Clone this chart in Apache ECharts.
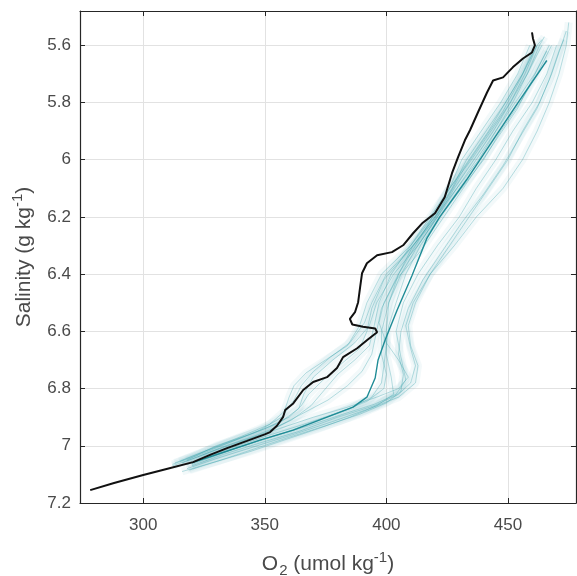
<!DOCTYPE html>
<html>
<head>
<meta charset="utf-8">
<script src="https://cdn.jsdelivr.net/npm/echarts@6/dist/echarts.min.js"></script>
<style>html,body{margin:0;padding:0;background:#fff}#c{width:577px;height:576px}</style>
</head>
<body>
<div id="c"></div>
<script>
// Tick values
const xTicks = [300, 350, 400, 450];
const yTicks = [5.6, 5.8, 6, 6.2, 6.4, 6.6, 6.8, 7, 7.2];

// Black profile [O2, Salinity]
const blackProfile = [[278.2,7.155],[288,7.13],[300,7.102],[310,7.08],[320.5,7.057],[328,7.03],[334.5,7.008],[342.7,6.983],[350,6.96],[352.2,6.952],[355,6.93],[357.5,6.90],[358.4,6.875],[361.7,6.852],[365.8,6.805],[369.9,6.777],[375.6,6.760],[379.7,6.728],[382.2,6.69],[388,6.659],[392,6.631],[396.2,6.603],[395.4,6.59],[390.4,6.584],[386,6.576],[385,6.556],[387.1,6.533],[388.4,6.498],[389.2,6.446],[390,6.397],[392,6.362],[396.2,6.334],[402.3,6.323],[406.9,6.299],[411,6.257],[415,6.22],[420,6.187],[424,6.131],[427,6.047],[429.5,5.991],[432.3,5.932],[434.4,5.897],[437.7,5.834],[441.4,5.765],[443.9,5.723],[448,5.712],[452,5.677],[456.2,5.646],[459.9,5.625],[461.1,5.600],[460.3,5.576],[459.9,5.555]];

// Mean of the ensemble
const meanProfile = [[466,5.653],[455,5.79],[444,5.93],[433,6.07],[422,6.2],[416.7,6.274],[410.6,6.404],[404.4,6.526],[399.5,6.63],[396.6,6.70],[395.4,6.763],[392,6.83],[386.3,6.865],[375.6,6.90],[361.7,6.945],[348,6.98],[334,7.02],[320,7.06]];

// Individual ensemble profiles
const prof1 = [[468,5.6],[462,5.7],[455,5.8],[447,5.9],[440,6.0],[431,6.1],[422,6.2],[414,6.3],[408,6.4],[404,6.5],[401,6.58],[400,6.65],[399,6.72],[398,6.78],[394,6.83],[385,6.87],[372,6.91],[358,6.955],[343,6.995],[330,7.03],[318,7.065]];
const prof2 = [[461,5.6],[456,5.7],[449,5.8],[441,5.9],[433,6.0],[427,6.1],[420,6.2],[411,6.3],[400,6.4],[394,6.5],[391,6.57],[385,6.64],[377,6.69],[370,6.74],[365,6.79],[362,6.84],[357,6.9],[348,6.945],[335,6.99],[322,7.035],[312,7.065]];
const prof3 = [[474,5.55],[472,5.6],[468,5.7],[463,5.8],[456,5.9],[450,6.0],[442,6.1],[434,6.2],[426,6.3],[418,6.4],[412,6.5],[409,6.58],[410,6.65],[413,6.72],[412,6.78],[405,6.83],[393,6.87],[378,6.915],[362,6.96],[345,7.005],[330,7.045],[318,7.08]];
const prof4 = [[464,5.6],[458,5.7],[451,5.8],[443,5.9],[435,6.0],[426,6.1],[418,6.2],[410,6.3],[402,6.4],[397,6.5],[395,6.58],[393,6.65],[387,6.7],[380,6.75],[375,6.8],[369,6.86],[361,6.91],[350,6.955],[338,6.995],[325,7.04]];
const prof5 = [[459,5.6],[454,5.7],[447,5.8],[439,5.9],[431,6.0],[426,6.1],[419,6.2],[410,6.3],[398,6.4],[392,6.5],[389,6.58],[384,6.65],[375,6.7],[367,6.745],[362,6.79],[360,6.83],[358,6.88],[352,6.925],[341,6.965],[328,7.01],[315,7.055]];
const prof6 = [[470,5.6],[466,5.7],[460,5.8],[452,5.9],[445,6.0],[437,6.1],[430,6.2],[421,6.3],[413,6.4],[407,6.5],[404,6.6],[406,6.69],[408,6.77],[404,6.82],[395,6.855],[382,6.89],[368,6.93],[352,6.97],[336,7.015],[320,7.065]];
const prof7 = [[467,5.6],[461,5.7],[453,5.8],[445,5.9],[437,6.0],[429,6.1],[420,6.2],[411,6.3],[405,6.4],[401,6.5],[400,6.6],[400,6.68],[402,6.76],[403,6.82],[396,6.86],[385,6.9],[372,6.94],[358,6.98],[344,7.02],[330,7.055],[316,7.09]];
const prof8 = [[464,5.58],[462,5.6],[456,5.7],[449,5.8],[442,5.9],[434,6.0],[426,6.1],[419,6.2],[412,6.3],[405,6.4],[399,6.5],[397,6.57],[400,6.64],[405,6.7],[409,6.76],[405,6.8],[396,6.83],[384,6.865],[370,6.9],[356,6.94],[342,6.98],[328,7.02],[316,7.06]];
const prof9 = [[462,5.6],[457,5.7],[451,5.8],[444,5.9],[436,6.0],[428,6.1],[421,6.2],[413,6.3],[403,6.4],[396,6.5],[393,6.58],[387,6.64],[378,6.7],[370,6.76],[366,6.82],[364,6.87],[356,6.92],[344,6.96],[330,7.0],[318,7.05]];
const prof10 = [[475,5.52],[474,5.6],[471,5.7],[467,5.8],[462,5.9],[456,6.0],[448,6.1],[437,6.2],[428,6.3],[418,6.4],[411,6.5],[408,6.58],[410,6.66],[412,6.72],[410,6.78],[405,6.82],[395,6.86],[380,6.9],[364,6.95],[348,6.99],[333,7.03],[320,7.07]];
const prof11 = [[465,5.57],[463,5.6],[458,5.7],[452,5.8],[445,5.9],[438,6.0],[429,6.1],[421,6.2],[413,6.3],[406,6.4],[401,6.5],[398,6.6],[398,6.68],[400,6.75],[399,6.8],[392,6.845],[380,6.885],[366,6.925],[351,6.965],[337,7.005],[323,7.05]];
const prof12 = [[473,5.58],[471,5.62],[467,5.72],[462,5.82],[455,5.92],[448,6.02],[440,6.12],[431,6.22],[423,6.32],[415,6.42],[409,6.52],[406,6.6],[405,6.68],[407,6.75],[406,6.81],[400,6.85],[389,6.89],[375,6.93],[360,6.97],[346,7.01],[332,7.05],[319,7.085]];
const prof13 = [[460,5.63],[455,5.72],[448,5.83],[440,5.93],[432,6.03],[426,6.12],[419,6.22],[409,6.32],[399,6.42],[394,6.52],[392,6.6],[389,6.66],[382,6.71],[374,6.77],[368,6.82],[365,6.86],[360,6.9],[350,6.94],[338,6.98],[325,7.02],[313,7.06]];
const prof14 = [[466,5.62],[460,5.72],[454,5.82],[446,5.92],[438,6.02],[430,6.12],[422,6.22],[414,6.32],[404,6.42],[398,6.52],[396,6.6],[394,6.68],[390,6.74],[384,6.79],[376,6.84],[366,6.885],[356,6.93],[346,6.965],[334,7.0],[322,7.04],[312,7.07]];

const ensemble = [prof1, prof2, prof3, prof4, prof5, prof6, prof7, prof8, prof9, prof10, prof11, prof12, prof13, prof14];

const teal = '#2c9aa5';
const textColor = '#4a4a4a';
const font = 'Liberation Sans, Arial, sans-serif';

const series = [];
ensemble.forEach(p => {
  series.push({type:'line', data:p, showSymbol:false, silent:true, z:1,
    lineStyle:{color:teal, width:8, opacity:0.06}});
});
ensemble.forEach(p => {
  series.push({type:'line', data:p, showSymbol:false, silent:true, z:2,
    lineStyle:{color:teal, width:1, opacity:0.32}});
});
series.push({type:'line', data:meanProfile, showSymbol:false, z:3,
  lineStyle:{color:'#1f8c96', width:1.4}});
series.push({type:'line', data:blackProfile, showSymbol:false, z:4,
  lineStyle:{color:'#111111', width:2}});

const axisLineStyle = {show:true, lineStyle:{color:'#262626', width:1.2}};

const chart = echarts.init(document.getElementById('c'));
chart.setOption({
  animation:false,
  backgroundColor:'#ffffff',
  grid:{left:80, right:1, top:11, bottom:73, containLabel:false, outerBoundsMode:'none'},
  xAxis:[{
    type:'value', position:'bottom', min:274, max:478,
    axisLine:axisLineStyle,
    axisTick:{show:true, inside:true, length:5, customValues:xTicks, lineStyle:{color:'#262626'}},
    axisLabel:{customValues:xTicks, color:textColor, fontSize:17, fontFamily:font, margin:14},
    splitLine:{show:true, lineStyle:{color:'#e2e2e2', width:1}},
    name:'{n|O}{sub|2}{n| (umol kg}{sup|-1}{n|)}',
    nameLocation:'middle', nameGap:47,
    nameTextStyle:{color:textColor, fontFamily:font,
      rich:{n:{fontSize:21, color:textColor, fontFamily:font},
            sub:{fontSize:15, color:textColor, fontFamily:font, padding:[13,0,0,1]},
            sup:{fontSize:15, color:textColor, fontFamily:font, padding:[0,0,13,0]}}}
  },{
    type:'value', position:'top', min:274, max:478,
    axisLine:axisLineStyle,
    axisTick:{show:true, inside:true, length:5, customValues:xTicks, lineStyle:{color:'#262626'}},
    axisLabel:{show:false}, splitLine:{show:false}
  }],
  yAxis:[{
    type:'value', position:'left', inverse:true, min:5.48, max:7.2,
    axisLine:axisLineStyle,
    axisTick:{show:true, inside:true, length:5, customValues:yTicks, lineStyle:{color:'#262626'}},
    axisLabel:{customValues:yTicks, color:textColor, fontSize:17, fontFamily:font, margin:9},
    splitLine:{show:true, lineStyle:{color:'#e2e2e2', width:1}},
    name:'{n|Salinity (g kg}{sup|-1}{n|)}',
    nameLocation:'middle', nameGap:42, nameRotate:90,
    nameTextStyle:{color:textColor, fontFamily:font,
      rich:{n:{fontSize:21, color:textColor, fontFamily:font},
            sup:{fontSize:15, color:textColor, fontFamily:font, padding:[0,0,13,0]}}}
  },{
    type:'value', position:'right', inverse:true, min:5.48, max:7.2,
    axisLine:axisLineStyle,
    axisTick:{show:true, inside:true, length:5, customValues:yTicks, lineStyle:{color:'#262626'}},
    axisLabel:{show:false}, splitLine:{show:false}
  }],
  series:series
});
</script>
</body>
</html>
